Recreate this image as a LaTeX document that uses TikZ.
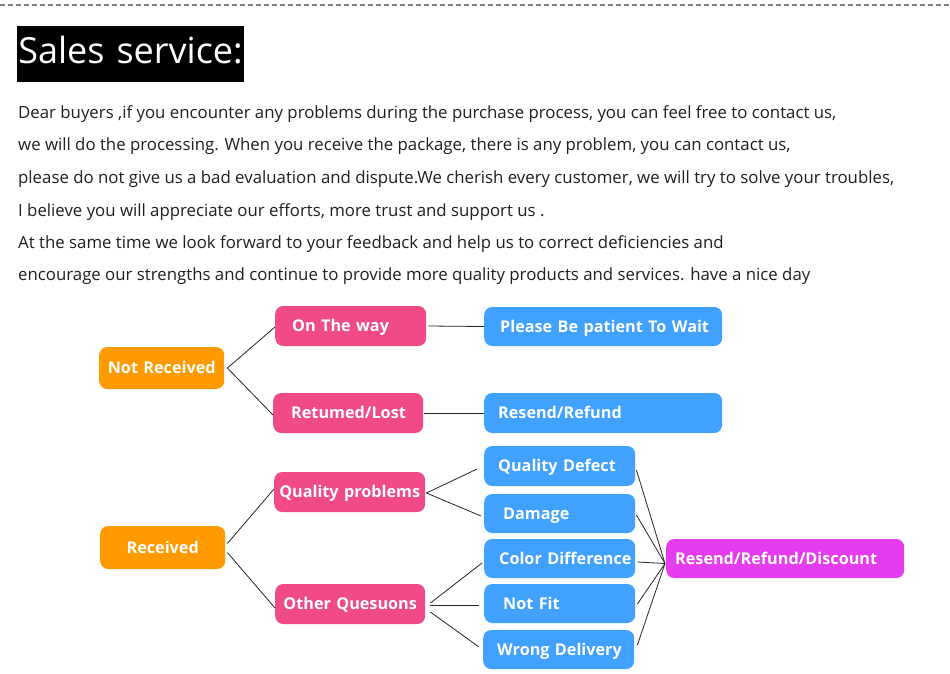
\documentclass[tikz,border=0pt]{standalone}
\usepackage{fontspec}
\setmainfont{Open Sans}
\newfontfamily\titlefont{Open Sans}
\newfontfamily\labfont{Open Sans}
\newcommand{\lab}[1]{\mbox{#1}}
\definecolor{cOrange}{RGB}{255,154,0}
\definecolor{cPink}{RGB}{240,74,137}
\definecolor{cBlue}{RGB}{64,161,255}
\definecolor{cMag}{RGB}{230,60,240}
\definecolor{cDash}{RGB}{130,130,130}
\begin{document}
\begin{tikzpicture}[x=1pt,y=-1pt,
  bodyline/.style={anchor=base west,inner sep=0pt,font=\fontsize{16.8}{19}\selectfont,text=black!88},
  box/.style={rounded corners=8pt,text=white,font=\labfont\bfseries\fontsize{16.2}{19}\selectfont,
    inner ysep=0pt,anchor=west,minimum height=40pt,text height=14.6pt,text depth=3pt},
  lbox/.style 2 args={box,text width=#1-2*#2,inner xsep=#2,align=left},
  cbox/.style={box,text width=#1,inner xsep=0pt,align=center},
  conn/.style={draw=black!85,line width=0.8pt}]
\useasboundingbox (0,0) rectangle (950,673);
\fill[white] (0,0) rectangle (950,673);
% top dashed line
\coordinate (dl) at (0,5);
\coordinate (dr) at (950,5);
\draw[cDash,line width=1.5pt,dash pattern=on 5pt off 3pt] (dl) -- (dr);
% title
\node[fill=black,text=white,font=\titlefont\fontsize{36}{40}\selectfont,text width=227pt,align=center,minimum height=56pt,inner sep=0pt,text depth=9pt] (title) at (130.5,54) {\lab{Sales service:}};
% body text
\node[bodyline] (l1) at (18,118) {Dear buyers ,if you encounter any problems during the purchase process, you can feel free to contact us,};
\node[bodyline] (l2) at (18,150) {we will do the processing. When you receive the package, there is any problem, you can contact us,};
\node[bodyline] (l3) at (18,183) {please do not give us a bad evaluation and dispute.We cherish every customer, we will try to solve your troubles,};
\node[bodyline] (l4) at (18,216) {I believe you will appreciate our efforts, more trust and support us .};
\node[bodyline] (l5) at (18,248) {At the same time we look forward to your feedback and help us to correct deficiencies and};
\node[bodyline] (l6) at (18,280) {encourage our strengths and continue to provide more quality products and services. have a nice day};
% nodes
\node[cbox=125pt,fill=cOrange,minimum height=42pt] (nr) at (99,368) {\lab{Not Received}};
\node[cbox=125pt,fill=cOrange,minimum height=43pt] (rec) at (100,547.5) {\lab{Received}};
\node[lbox={151pt}{17pt},fill=cPink] (otw) at (275,326) {\lab{On The way}};
\node[lbox={150pt}{18pt},fill=cPink] (rl) at (273,413) {\lab{Retumed/Lost}};
\node[cbox=151pt,fill=cPink] (qp) at (274,492) {\lab{Quality problems}};
\node[cbox=150pt,fill=cPink] (oq) at (275,604) {\lab{Other Quesuons}};
\node[lbox={238pt}{16pt},fill=cBlue,minimum height=39pt] (pw) at (484,326.5) {\lab{Please Be patient To Wait}};
\node[lbox={238pt}{14pt},fill=cBlue] (rr) at (484,413) {\lab{Resend/Refund}};
\node[lbox={151pt}{14pt},fill=cBlue] (qd) at (484,466) {\lab{Quality Defect}};
\node[lbox={151pt}{19pt},fill=cBlue,minimum height=39pt] (dm) at (484,513.5) {\lab{Damage}};
\node[lbox={151pt}{15pt},fill=cBlue,minimum height=39pt] (cd) at (484,558.5) {\lab{Color Difference}};
\node[lbox={151pt}{19pt},fill=cBlue,minimum height=39pt] (nf) at (484,603.5) {\lab{Not Fit}};
\node[lbox={151pt}{14pt},fill=cBlue,minimum height=39pt] (wd) at (483,649.5) {\lab{Wrong Delivery}};
\node[lbox={238pt}{9pt},fill=cMag,minimum height=39pt] (rrd) at (666,558.5) {\lab{Resend/Refund/Discount}};
% connectors
\draw[conn] ([xshift=3pt]nr.east) -- ([yshift=-1pt]otw.west);
\draw[conn] ([xshift=3pt]nr.east) -- ([yshift=-2pt]rl.west);
\draw[conn] ([xshift=2pt]otw.east) -- (pw.west);
\draw[conn] ([xshift=1pt]rl.east) -- (rr.west);
\draw[conn] ([xshift=2pt,yshift=4pt]rec.east) -- ([yshift=3pt]qp.west);
\draw[conn] ([xshift=2pt,yshift=-5pt]rec.east) -- ([yshift=-4pt]oq.west);
\draw[conn] ([xshift=1pt,yshift=-1pt]qp.east) -- ([xshift=-7pt,yshift=-3pt]qd.west);
\draw[conn] ([xshift=1pt,yshift=-1pt]qp.east) -- ([xshift=-3pt,yshift=-2.5pt]dm.west);
\draw[conn] ([xshift=5pt,yshift=1pt]oq.east) -- ([xshift=-2pt,yshift=-4.5pt]cd.west);
\draw[conn] ([xshift=5pt,yshift=-1pt]oq.east) -- ([xshift=-5pt,yshift=-1.5pt]nf.west);
\draw[conn] ([xshift=5pt,yshift=-8pt]oq.east) -- ([xshift=-4pt,yshift=2.5pt]wd.west);
\coordinate (fan) at ([xshift=-1pt,yshift=-5pt]rrd.west);
\draw[conn] ([xshift=1pt,yshift=-4pt]qd.east) -- (fan);
\draw[conn] ([xshift=1pt,yshift=-1.5pt]dm.east) -- (fan);
\draw[conn] ([xshift=2pt,yshift=-3.5pt]cd.east) -- (fan);
\draw[conn] ([xshift=2pt,yshift=-0.5pt]nf.east) -- (fan);
\draw[conn] ([xshift=3pt,yshift=4.5pt]wd.east) -- (fan);
\end{tikzpicture}
\end{document}
